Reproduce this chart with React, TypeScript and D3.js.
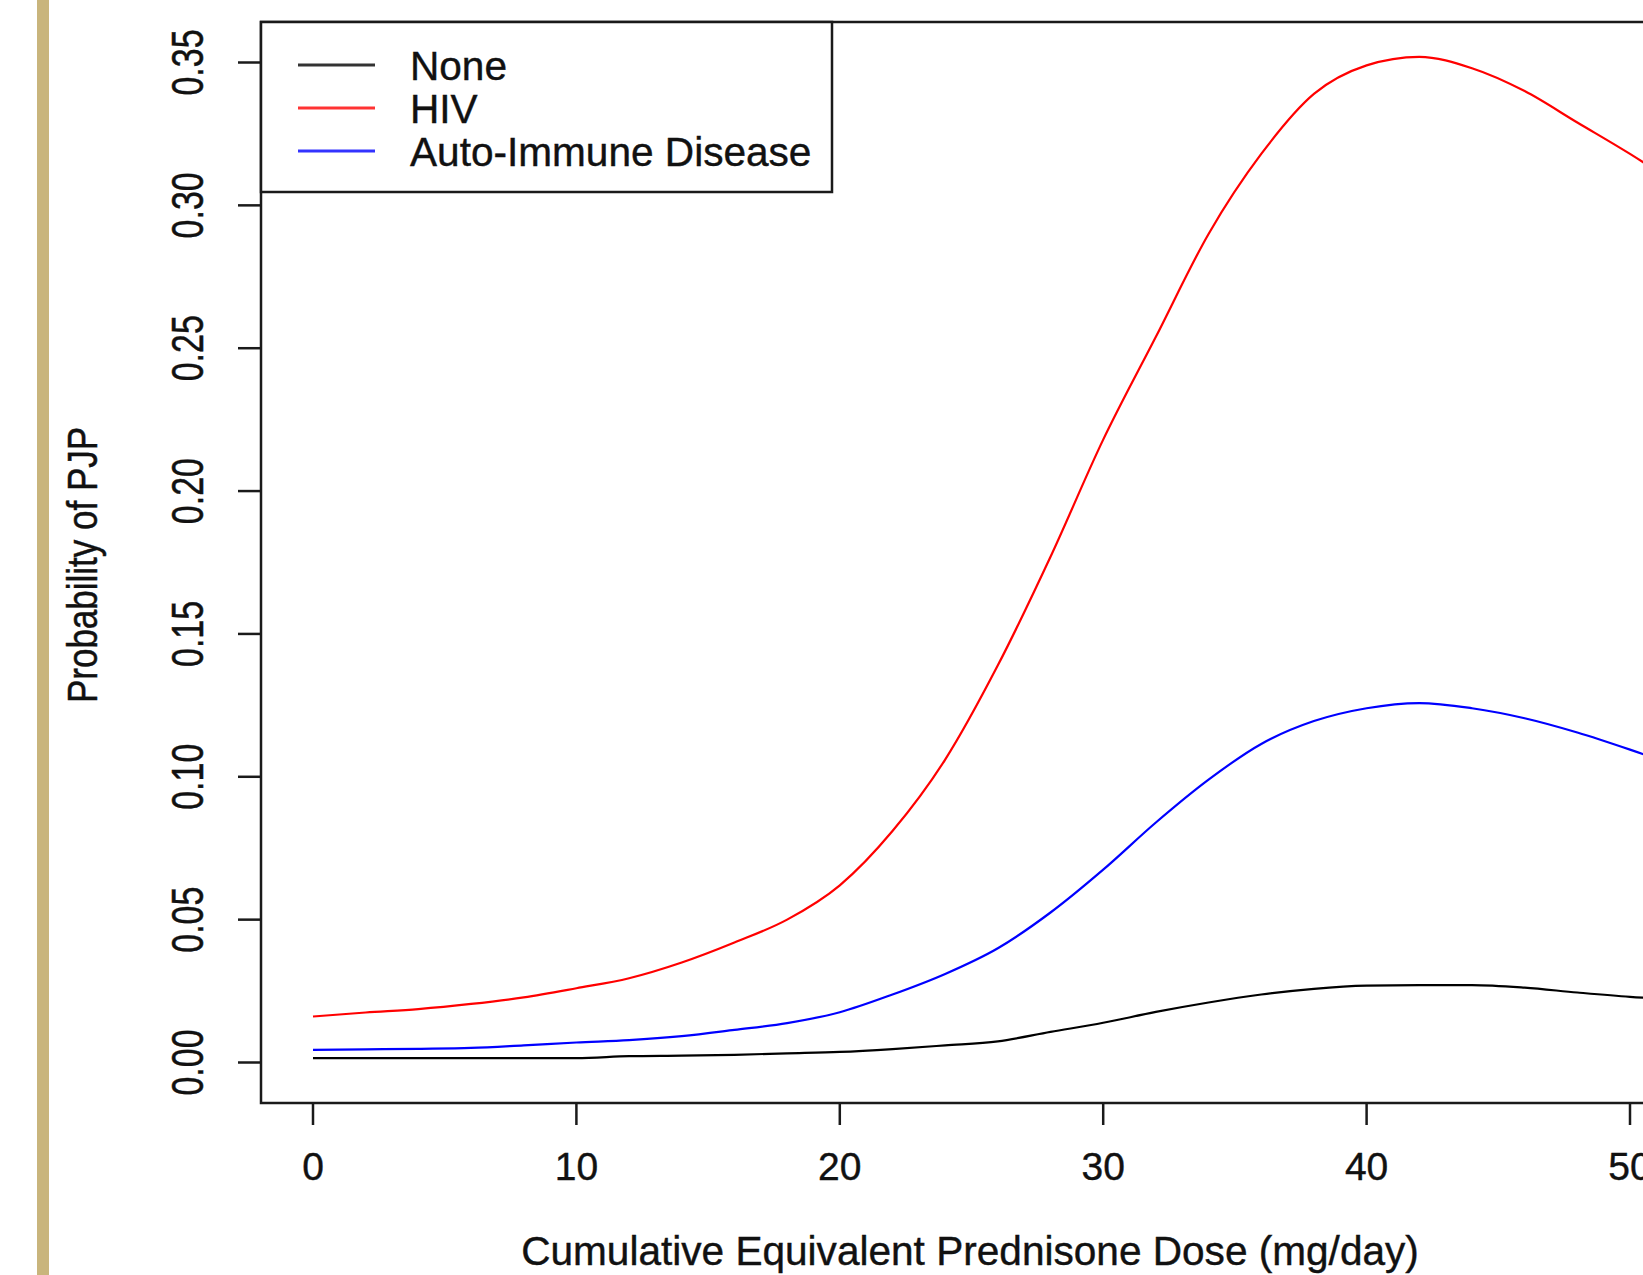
import React from 'react';
import * as d3 from 'd3';

// dose grid (mg/day) and predicted probabilities
const dose = [0, 2, 4, 6, 8, 10, 12, 14, 16, 18, 20, 22, 24, 26, 28, 30, 32, 34, 36, 38, 40, 42, 44, 46, 48, 50, 52];
const noneVals = [0.0015, 0.0015, 0.0015, 0.0015, 0.0015, 0.0015, 0.0022, 0.0024, 0.0027, 0.0032, 0.0037, 0.0047, 0.006, 0.0074, 0.0107, 0.0139, 0.0177, 0.021, 0.0238, 0.0258, 0.0269, 0.0271, 0.0271, 0.0262, 0.0245, 0.023, 0.022];
const hivVals = [0.0161, 0.0175, 0.0187, 0.0205, 0.0228, 0.026, 0.0295, 0.035, 0.042, 0.05, 0.062, 0.081, 0.106, 0.139, 0.177, 0.218, 0.254, 0.29, 0.318, 0.339, 0.349, 0.352, 0.348, 0.34, 0.329, 0.318, 0.306];
const autoVals = [0.0044, 0.0046, 0.0048, 0.0051, 0.006, 0.007, 0.0078, 0.0092, 0.0114, 0.0138, 0.0176, 0.0238, 0.031, 0.04, 0.0525, 0.0675, 0.084, 0.099, 0.1115, 0.1195, 0.124, 0.1258, 0.124, 0.1205, 0.1155, 0.1095, 0.103];

const seriesNames = ['None', 'HIV', 'Auto-Immune Disease'];
const seriesColors = ['#000000', '#ff0000', '#0000ff'];

const xTicks = [0, 10, 20, 30, 40, 50];
const yTicks = [0, 0.05, 0.1, 0.15, 0.2, 0.25, 0.3, 0.35];

const W = 1643;
const H = 1275;
const font = '"Liberation Sans", Arial, sans-serif';

export default function App() {
  const box = { left: 261, top: 22, bottom: 1103, right: 1720 };
  const x = d3.scaleLinear().domain([0, 50]).range([313, 1630]);
  const y = d3.scaleLinear().domain([0, 0.35]).range([1062.5, 62.5]);
  const line = d3.line<number>()
    .x((_, i) => x(dose[i]))
    .y(d => y(d))
    .curve(d3.curveMonotoneX);

  const series = [noneVals, hivVals, autoVals];

  return (
    <div style={{ position: 'absolute', left: 0, top: 0 }}>
      <svg width={W} height={H} style={{ display: 'block', background: '#fff' }}>
        <defs>
          <clipPath id="plotClip">
            <rect x={box.left} y={box.top} width={box.right - box.left} height={box.bottom - box.top} />
          </clipPath>
        </defs>
        {/* tan side bar */}
        <rect x={37} y={0} width={12} height={H} fill="#c9b57c" />

        {/* curves */}
        <g clipPath="url(#plotClip)" fill="none" strokeWidth={2.2}>
          {series.map((s, i) => (
            <path key={i} d={line(s) || ''} stroke={seriesColors[i]} />
          ))}
        </g>

        {/* plot frame */}
        <rect x={box.left} y={box.top} width={box.right - box.left} height={box.bottom - box.top}
          fill="none" stroke="#1a1a1a" strokeWidth={2.5} />

        {/* x axis */}
        <g stroke="#1a1a1a" strokeWidth={2.5}>
          {xTicks.map(t => (
            <line key={t} x1={x(t)} x2={x(t)} y1={box.bottom} y2={box.bottom + 22} />
          ))}
        </g>
        <g fontFamily={font} fontSize={39} fill="#111" stroke="#111" strokeWidth={0.4} textAnchor="middle">
          {xTicks.map(t => (
            <text key={t} x={x(t)} y={1180}>{t}</text>
          ))}
          <text x={970} y={1265} fontSize={40.6}>Cumulative Equivalent Prednisone Dose (mg/day)</text>
        </g>

        {/* y axis */}
        <g stroke="#1a1a1a" strokeWidth={2.5}>
          {yTicks.map(t => (
            <line key={t} x1={box.left - 23} x2={box.left} y1={y(t)} y2={y(t)} />
          ))}
        </g>
        <g fontFamily={font} fontSize={34} fill="#111" stroke="#111" strokeWidth={0.4} textAnchor="middle">
          {yTicks.map(t => (
            <text key={t} transform={`translate(203,${y(t)}) rotate(-90) scale(1,1.28)`}>{d3.format('.2f')(t)}</text>
          ))}
          <text fontSize={35} transform={`translate(97,565) rotate(-90) scale(1,1.2)`}>Probability of PJP</text>
        </g>

        {/* legend */}
        <g>
          <rect x={box.left} y={box.top} width={571} height={170} fill="#fff" stroke="#1a1a1a" strokeWidth={2.5} />
          {seriesNames.map((name, i) => {
            const ly = 65 + i * 43;
            return (
              <g key={name}>
                <line x1={298} x2={375} y1={ly} y2={ly} stroke={seriesColors[i]} strokeOpacity={0.8} strokeWidth={3} />
                <text x={410} y={ly + 15} fontFamily={font} fontSize={40.6} fill="#111" stroke="#111" strokeWidth={0.4}>{name}</text>
              </g>
            );
          })}
        </g>
      </svg>
    </div>
  );
}
